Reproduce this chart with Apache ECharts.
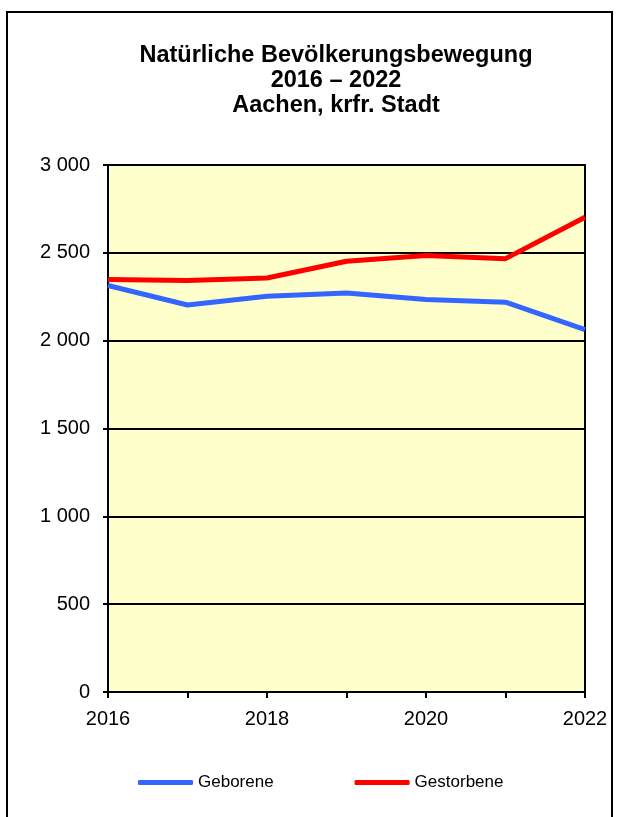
<!DOCTYPE html>
<html><head><meta charset="utf-8">
<script src="https://cdn.jsdelivr.net/npm/echarts@6/dist/echarts.min.js"></script>
<style>html,body{margin:0;padding:0;background:#fff}#c{width:625px;height:817px}</style>
</head><body><div id="c"></div>
<script>
var years = ['2016','2017','2018','2019','2020','2021','2022'];
var geborene = [2314, 2203, 2253, 2272, 2234, 2219, 2063];
var gestorbene = [2348, 2342, 2357, 2452, 2485, 2467, 2703];
var titleLines = ['Natürliche Bevölkerungsbewegung', '2016 – 2022', 'Aachen, krfr. Stadt'];

var chart = echarts.init(document.getElementById('c'));
var font = 'Liberation Sans, Arial, sans-serif';
chart.setOption({
  animation: false,
  backgroundColor: '#fff',
  textStyle: {fontFamily: font},
  graphic: [{
    type: 'rect', shape: {x: 7, y: 12, width: 605, height: 830},
    style: {fill: null, stroke: '#000', lineWidth: 2}, silent: true, z: 100
  }, {
    type: 'text', x: 336, y: 43, silent: true,
    style: {text: titleLines.join('\n'), textAlign: 'center', textVerticalAlign: 'top',
      font: 'bold 23.5px ' + font, lineHeight: 25, fill: '#000'}
  }],
  legend: {
    top: 774, left: 138, padding: 0, itemGap: 81, itemWidth: 55, itemHeight: 5,
    icon: 'roundRect',
    textStyle: {fontFamily: font, fontSize: 17, color: '#000'},
    data: ['Geborene', 'Gestorbene']
  },
  grid: {left: 108, right: 40, top: 165, bottom: 125, backgroundColor: '#FFFFCC', show: true, borderColor: '#000', borderWidth: 2},
  xAxis: {
    type: 'category', data: years, boundaryGap: false,
    axisLine: {lineStyle: {color: '#000', width: 2}},
    axisTick: {show: true, interval: 0, length: 6, lineStyle: {color: '#000', width: 2}},
    axisLabel: {interval: 1, color: '#000', fontSize: 20, fontFamily: font, margin: 17}
  },
  yAxis: {
    type: 'value', min: 0, max: 3000, interval: 500,
    axisLine: {show: true, lineStyle: {color: '#000', width: 2}},
    axisTick: {show: true, length: 5, lineStyle: {color: '#000', width: 2}},
    splitLine: {lineStyle: {color: '#000', width: 2}},
    axisLabel: {color: '#000', fontSize: 20, fontFamily: font, margin: 18,
      formatter: function(v){ return String(v).replace(/\B(?=(\d{3})+(?!\d))/g, ' '); }}
  },
  series: [
    {name: 'Geborene', type: 'line', data: geborene, symbol: 'none', lineStyle: {color: '#3366FF', width: 5}, itemStyle: {color: '#3366FF'}},
    {name: 'Gestorbene', type: 'line', data: gestorbene, symbol: 'none', lineStyle: {color: '#FF0000', width: 5}, itemStyle: {color: '#FF0000'}}
  ]
});
</script></body></html>
